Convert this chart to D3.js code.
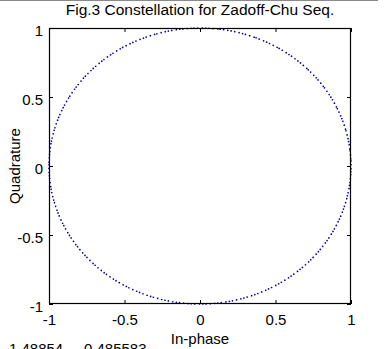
<!DOCTYPE html>
<html>
<head>
<meta charset="utf-8">
<script src="https://cdn.jsdelivr.net/npm/d3@7"></script>
<style>
  html, body { margin: 0; padding: 0; background: #fff; }
  svg { display: block; }
  text { font-family: "Liberation Sans", Arial, sans-serif; fill: #000; }
</style>
</head>
<body>
<svg id="chart" width="385" height="349"></svg>
<script>
// Phase (degrees) of each sequence sample on the unit circle
const phaseDeg = [
  0.6, 2.1, 3.0, 4.7, 6.3, 7.1, 8.9, 10.2, 11.4, 13.0, 14.8, 15.5, 17.2, 18.9, 20.1, 21.3,
  23.0, 24.6, 25.4, 27.1, 28.7, 29.9, 31.2, 32.8, 34.5, 35.3, 36.9, 38.6, 39.7, 41.1, 42.9,
  44.2, 45.0, 46.8, 48.3, 49.6, 51.0, 52.7, 53.9, 55.2, 57.0, 58.4, 59.3, 61.0, 62.6, 63.8,
  65.1, 66.9, 68.2, 69.0, 70.8, 72.5, 73.6, 75.0, 76.7, 78.1, 79.4, 81.0, 82.3, 83.2, 85.0,
  86.6, 87.8, 89.1, 90.9, 92.3, 93.4, 94.8, 96.5, 97.7, 99.0, 100.8, 102.1, 103.3, 104.9,
  106.6, 107.5, 109.2, 110.9, 112.0, 113.4, 115.1, 116.4, 117.6, 119.3, 120.8, 121.9, 123.5,
  125.2, 126.3, 127.8, 129.5, 130.6, 131.9, 133.7, 135.0, 136.2, 137.9, 139.4, 140.5, 142.0,
  143.8, 145.1, 146.2, 147.9, 149.6, 150.5, 152.1, 153.8, 155.0, 156.3, 158.1, 159.4, 160.6,
  162.2, 163.9, 165.0, 166.5, 168.3, 169.6, 170.7, 172.4, 174.0, 175.2, 176.6, 178.4, 179.5,
  181.0, 182.7, 184.1, 185.2, 186.9, 188.6, 189.7, 191.1, 192.8, 194.3, 195.4, 197.0, 198.7,
  199.9, 201.2, 203.0, 204.5, 205.6, 207.1, 208.9, 210.2, 211.4, 213.1, 214.7, 215.8, 217.3,
  219.0, 220.4, 221.5, 223.2, 224.9, 226.0, 227.5, 229.2, 230.6, 231.7, 233.4, 235.0, 236.2,
  237.7, 239.4, 240.8, 241.9, 243.6, 245.2, 246.4, 247.8, 249.5, 250.9, 252.0, 253.7, 255.3,
  256.6, 257.9, 259.6, 261.0, 262.2, 263.8, 265.5, 266.7, 268.0, 269.8, 271.1, 272.3, 273.9,
  275.6, 276.8, 278.1, 279.9, 281.2, 282.4, 284.0, 285.7, 286.9, 288.2, 290.0, 291.3, 292.5,
  294.1, 295.8, 297.0, 298.3, 300.1, 301.4, 302.6, 304.2, 305.9, 307.1, 308.4, 310.2, 311.5,
  312.7, 314.3, 316.0, 317.2, 318.5, 320.3, 321.6, 322.8, 324.4, 326.1, 327.3, 328.6, 330.4,
  331.7, 332.9, 334.5, 336.2, 337.4, 338.7, 340.5, 341.8, 343.0, 344.6, 346.3, 347.5, 348.8,
  350.6, 351.9, 353.1, 354.7, 356.4, 357.6, 358.9
];

const xTicks = [-1, -0.5, 0, 0.5, 1];
const yTicks = [-1, -0.5, 0, 0.5, 1];
const xTickLabels = ["-1", "-0.5", "0", "0.5", "1"];
const yTickLabels = ["-1", "-0.5", "0", "0.5", "1"];

const titleText = "Fig.3 Constellation for Zadoff-Chu Seq.";
const xLabel = "In-phase";
const yLabel = "Quadrature";
const cursorReadout = ["-1.48854", "-0.485583"];

(function draw() {
  const svg = d3.select("#chart");
  const plotL = 49, plotR = 351, plotT = 28, plotB = 304;

  const x = d3.scaleLinear().domain([-1, 1]).range([plotL, plotR]);
  const y = d3.scaleLinear().domain([-1, 1]).range([plotB, plotT]);

  // window edge line
  svg.append("line")
    .attr("x1", 0).attr("x2", 378).attr("y1", 0.5).attr("y2", 0.5)
    .attr("stroke", "#8a8a8a").attr("stroke-width", 1);

  // constellation points
  const pts = phaseDeg.map(d => {
    const a = d * Math.PI / 180;
    return { i: Math.cos(a), q: Math.sin(a) };
  });
  svg.append("g")
    .selectAll("circle")
    .data(pts)
    .join("circle")
    .attr("cx", d => x(d.i))
    .attr("cy", d => y(d.q))
    .attr("r", 0.85)
    .attr("fill", "#00009a");

  const fmtX = (d, i) => xTickLabels[i];
  const fmtY = (d, i) => yTickLabels[i];

  // bottom axis: inward ticks with labels
  const gx = svg.append("g")
    .attr("transform", `translate(0,${plotB})`)
    .call(d3.axisBottom(x).tickValues(xTicks).tickFormat(fmtX)
      .tickSize(-4).tickSizeOuter(0).tickPadding(10));
  // left axis
  const gy = svg.append("g")
    .attr("transform", `translate(${plotL},0)`)
    .call(d3.axisLeft(y).tickValues(yTicks).tickFormat(fmtY)
      .tickSize(-4).tickSizeOuter(0).tickPadding(6));
  // top and right axes: ticks only
  const gt = svg.append("g")
    .attr("transform", `translate(0,${plotT})`)
    .call(d3.axisTop(x).tickValues(xTicks).tickFormat("")
      .tickSize(-4).tickSizeOuter(0));
  const gr = svg.append("g")
    .attr("transform", `translate(${plotR},0)`)
    .call(d3.axisRight(y).tickValues(yTicks).tickFormat("")
      .tickSize(-4).tickSizeOuter(0));

  [gx, gy, gt, gr].forEach(g => {
    g.select(".domain").remove();
    g.selectAll(".tick line").attr("stroke", "#000");
    g.selectAll("text")
      .style("font-family", "'Liberation Sans', Arial, sans-serif")
      .style("font-size", "15px")
      .attr("fill", "#000");
  });
  gy.selectAll(".tick text").attr("dy", "0.52em");

  // axes box
  svg.append("rect")
    .attr("x", plotL + 0.5).attr("y", plotT + 0.5)
    .attr("width", plotR - plotL - 1).attr("height", plotB - plotT - 1)
    .attr("fill", "none").attr("stroke", "#000").attr("stroke-width", 1.2);

  // title and axis labels
  svg.append("text")
    .attr("x", (plotL + plotR) / 2).attr("y", 15)
    .attr("text-anchor", "middle")
    .style("font-size", "15.5px")
    .text(titleText);

  svg.append("text")
    .attr("x", (plotL + plotR) / 2).attr("y", 344)
    .attr("text-anchor", "middle")
    .style("font-size", "15px")
    .text(xLabel);

  svg.append("text")
    .attr("transform", `translate(20,${(plotT + plotB) / 2}) rotate(-90)`)
    .attr("text-anchor", "middle")
    .style("font-size", "15px")
    .text(yLabel);

  // cursor coordinate readout at the window's lower edge
  svg.append("text")
    .attr("x", 4).attr("y", 354)
    .style("font-size", "15px")
    .text(cursorReadout[0]);
  svg.append("text")
    .attr("x", 79).attr("y", 354)
    .style("font-size", "15px")
    .text(cursorReadout[1]);
})();
</script>
</body>
</html>
